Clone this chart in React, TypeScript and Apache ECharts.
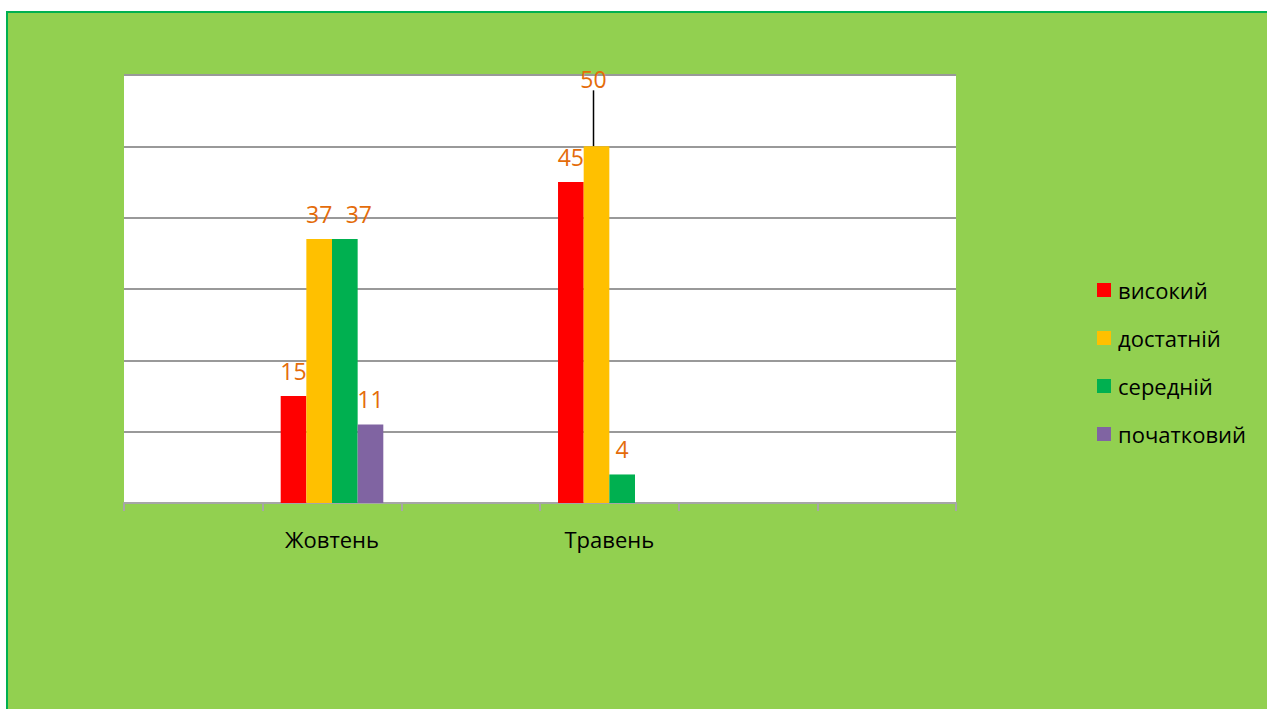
import React, { useEffect, useRef } from "react";
import * as echarts from "echarts";

const categories = ["", "Жовтень", "", "Травень", "", ""];
const seriesNames = ["високий", "достатній", "середній", "початковий"];
const vysokyi = [null, 15, null, 45, null, null];
const dostatnii = [null, 37, null, 50, null, null];
const serednii = [null, 37, null, 4, null, null];
const pochatkovyi = [null, 11, null, null, null, null];
const colors = ["#FF0000", "#FFC000", "#00B050", "#8064A2"];

const FONT = "'Open Sans', 'Noto Sans', sans-serif";
const LABEL_COLOR = "#E46C0A";

export default function App() {
  const ref = useRef<HTMLDivElement>(null);
  useEffect(() => {
    if (!ref.current) return;
    const chart = echarts.init(ref.current, null, { renderer: "svg" });
    const values = [vysokyi, dostatnii, serednii, pochatkovyi];
    const series = values.map((arr, si) => ({
      name: seriesNames[si],
      type: "bar",
      barGap: "0%",
      barCategoryGap: "26%",
      itemStyle: { color: colors[si] },
      label: {
        show: true,
        position: "top",
        distance: 14,
        color: LABEL_COLOR,
        fontSize: 23,
        fontFamily: FONT,
      },
      labelLayout: (p: any) => {
        if (si === 1 && p.dataIndex === 3) return { dx: -3, dy: -42 };
        if (si === 2 && p.dataIndex === 1) return { dx: 14 };
        return {};
      },
      data: arr.map((v, i) =>
        si === 1 && i === 3
          ? { value: v, labelLine: { show: true, lineStyle: { color: "#000", width: 1.5 } } }
          : v
      ),
    }));
    chart.setOption({
      animation: false,
      backgroundColor: "transparent",
      grid: { left: 116, top: 62, width: 832, height: 428 },
      legend: {
        orient: "vertical",
        left: 1084,
        top: 261,
        icon: "rect",
        itemWidth: 14,
        itemHeight: 14,
        itemGap: 26,
        textStyle: { fontSize: 22, fontFamily: FONT, color: "#000", lineHeight: 22, padding: [0, 0, 0, 2] },
        data: seriesNames,
      },
      xAxis: {
        type: "category",
        data: categories,
        axisLine: { lineStyle: { color: "#A6A6A6", width: 2 } },
        axisTick: { show: true, length: 8, lineStyle: { color: "#A6A6A6", width: 2 } },
        axisLabel: { interval: 0, margin: 25, fontSize: 22, fontFamily: FONT, color: "#000" },
      },
      yAxis: {
        type: "value",
        min: 0,
        max: 60,
        interval: 10,
        axisLabel: { show: false },
        axisLine: { show: false },
        axisTick: { show: false },
        splitLine: { lineStyle: { color: "#999999", width: 2 } },
      },
      series,
      graphic: [
        {
          type: "rect",
          z: -10,
          shape: { x: 116, y: 62, width: 832, height: 428 },
          style: { fill: "#FFFFFF" },
        },
      ],
    });
    return () => chart.dispose();
  }, []);

  return (
    <div style={{ position: "fixed", left: 0, top: 0, width: 1267, height: 709, background: "#fff", overflow: "hidden" }}>
      <div
        style={{
          position: "absolute",
          left: 6,
          top: 11,
          width: 1265,
          height: 700,
          background: "#92D050",
          borderTop: "2px solid #00B050",
          borderLeft: "2px solid #00B050",
        }}
      >
        <div ref={ref} style={{ width: 1265, height: 700 }} />
      </div>
    </div>
  );
}
